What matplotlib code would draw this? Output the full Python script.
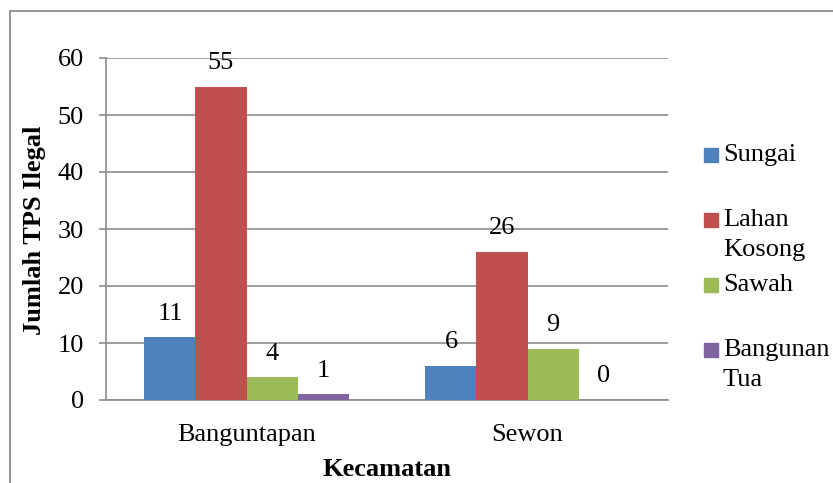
import matplotlib
matplotlib.use("Agg")
import matplotlib.pyplot as plt
from matplotlib.patches import Rectangle
import numpy as np

plt.rcParams['font.family'] = ['Liberation Serif', 'DejaVu Serif']

# Data
kecamatan = ["Banguntapan", "Sewon"]
series = ["Sungai", "Lahan Kosong", "Sawah", "Bangunan Tua"]
sungai = [11, 6]
lahan_kosong = [55, 26]
sawah = [4, 9]
bangunan_tua = [1, 0]
values = [sungai, lahan_kosong, sawah, bangunan_tua]
colors = ["#4F81BD", "#C0504D", "#9BBB59", "#8064A2"]
legend_lines = [["Sungai"], ["Lahan", "Kosong"], ["Sawah"], ["Bangunan", "Tua"]]

W, H = 833, 483
fig = plt.figure(figsize=(W / 100, H / 100), dpi=100)

grid_col = "#8c8c8c"
fs = 19

# axes placement in pixel terms
left, right, top, bottom = 106, 668, 58, 400
ax = fig.add_axes([left / W, 1 - bottom / H, (right - left) / W, (bottom - top) / H])

x = np.arange(len(kecamatan))
bw = 0.1815
for i, (vals, col) in enumerate(zip(values, colors)):
    pos = x + (i - 1.5) * bw
    ax.bar(pos, vals, width=bw, color=col, zorder=3, linewidth=0)
    for xp, v in zip(pos, vals):
        ax.annotate(str(v), (xp, v), xytext=(0, 17), textcoords="offset points",
                    ha="center", va="center", fontsize=fs, zorder=4)

ax.set_xlim(-0.5, 1.5)
ax.set_ylim(0, 60)
ax.set_yticks(range(0, 61, 10))
ax.set_xticks(x)
ax.set_xticklabels(kecamatan)
ax.yaxis.grid(True, color=grid_col, linewidth=1.2, zorder=0)
ax.set_axisbelow(True)
for s in ["top", "right"]:
    ax.spines[s].set_visible(False)
for s in ["left", "bottom"]:
    ax.spines[s].set_color(grid_col)
    ax.spines[s].set_linewidth(1.2)
ax.tick_params(axis="y", length=5, width=1.2, color=grid_col, pad=11, labelsize=fs)
ax.tick_params(axis="x", length=0, pad=17, labelsize=fs)

# axis titles
fig.text(35 / W, 1 - 230 / H, "Jumlah TPS Ilegal", rotation=90, ha="center",
         va="center", fontsize=fs, fontweight="bold")
fig.text(387 / W, 1 - 469 / H, "Kecamatan", ha="center", va="center",
         fontsize=fs, fontweight="bold")

# legend
ys = [155, 220, 285, 350]
for lines, col, yc in zip(legend_lines, colors, ys):
    fig.patches.append(Rectangle((704 / W, 1 - (yc + 7) / H), 14 / W, 14 / H,
                                 transform=fig.transFigure, color=col))
    for k, t in enumerate(lines):
        fig.text(723 / W, 1 - (yc + 30 * k) / H, t, ha="left", va="center", fontsize=fs)

# chart border
fig.patches.append(Rectangle((10 / W, -0.05), 1.1, 1 - 11 / H + 0.05,
                             transform=fig.transFigure, fill=False,
                             edgecolor=grid_col, linewidth=1.3))

fig.savefig("out.png", dpi=100)
